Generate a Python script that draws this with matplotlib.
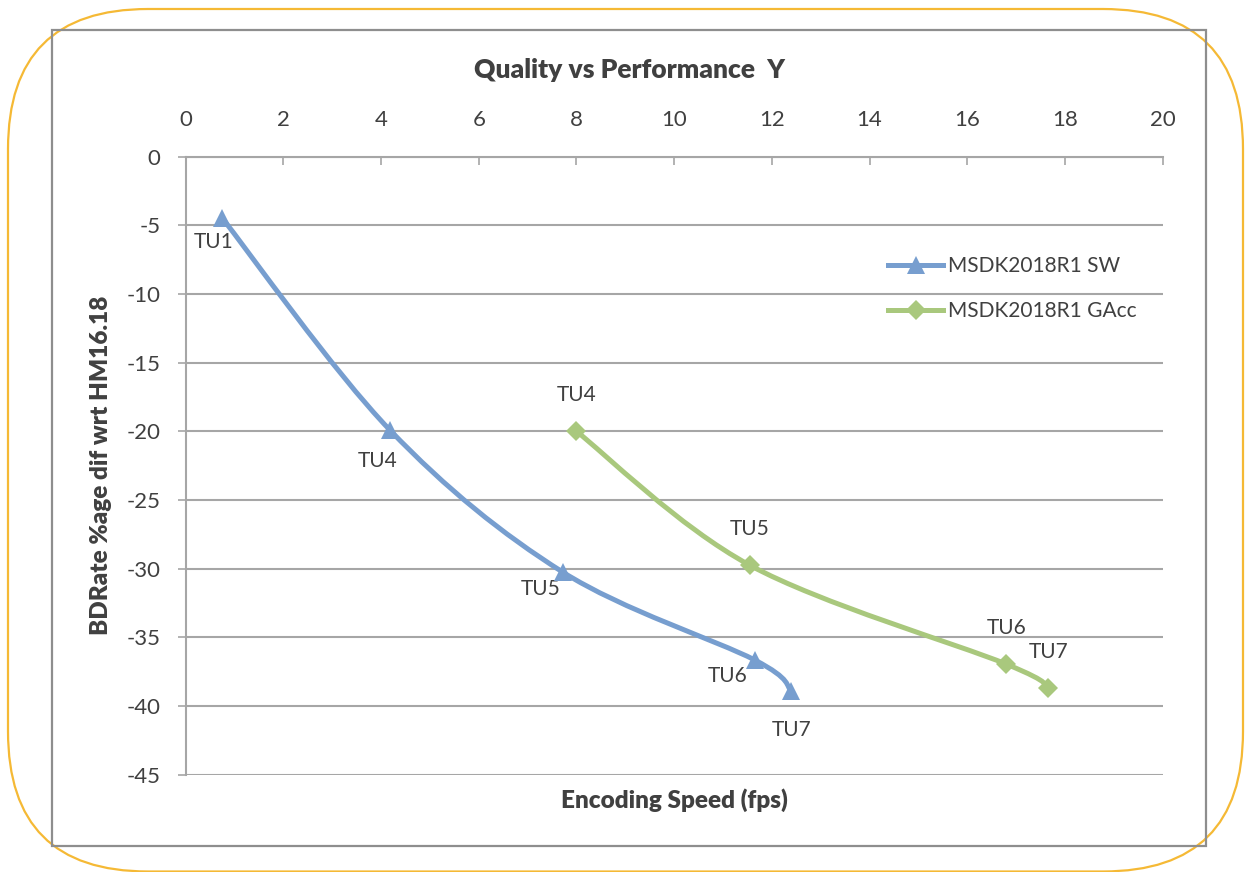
import numpy as np
import matplotlib
matplotlib.use("Agg")
import matplotlib.pyplot as plt
from matplotlib.path import Path
from matplotlib.patches import PathPatch, FancyBboxPatch, Rectangle
from matplotlib.lines import Line2D
from matplotlib.transforms import IdentityTransform

plt.rcParams['font.family'] = ['Lato', 'DejaVu Sans']
plt.rcParams['axes.unicode_minus'] = False

# data
sw_speed = [0.74, 4.18, 7.72, 11.65, 12.4]
sw_bdrate = [-4.43, -19.9, -30.25, -36.65, -38.9]
sw_labels = ['TU1', 'TU4', 'TU5', 'TU6', 'TU7']

gacc_speed = [8.0, 11.55, 16.8, 17.66]
gacc_bdrate = [-20.0, -29.75, -36.95, -38.7]
gacc_labels = ['TU4', 'TU5', 'TU6', 'TU7']

x_ticks = list(range(0, 21, 2))
y_ticks = list(range(0, -46, -5))

blue = '#779ECF'
green = '#A9C87D'
text_col = '#404040'
grid_col = '#A6A6A6'


def smooth_path(xs, ys):
    # bezier through the points, like a spreadsheet "smoothed line"
    pts = np.column_stack([xs, ys])
    n = len(pts)
    verts = [pts[0]]
    codes = [Path.MOVETO]
    for i in range(n - 1):
        p0 = pts[i - 1] if i > 0 else pts[i]
        p1 = pts[i]
        p2 = pts[i + 1]
        p3 = pts[i + 2] if i + 2 < n else pts[i + 1]
        verts += [p1 + (p2 - p0) / 6, p2 - (p3 - p1) / 6, p2]
        codes += [Path.CURVE4] * 3
    return Path(verts, codes)


fig = plt.figure(figsize=(12.46, 8.72), dpi=100)

# outer rounded border and inner chart frame (pixel coords)
fig.patches.append(FancyBboxPatch((8, 0.5), 1235, 862.5,
                                  boxstyle="round,pad=0,rounding_size=140",
                                  transform=IdentityTransform(), fill=False,
                                  edgecolor='#F5B935', linewidth=1.6))
fig.patches.append(Rectangle((52, 26), 1154, 816, transform=IdentityTransform(),
                             fill=False, edgecolor='#8E8E8E', linewidth=1.6))

ax = fig.add_axes([0.149, 0.1116, 0.7841, 0.7087])
ax.set_xlim(0, 20)
ax.set_ylim(-45, 0)

ax.add_patch(PathPatch(smooth_path(sw_speed, sw_bdrate), fill=False,
                       edgecolor=blue, linewidth=3.6, capstyle='round', zorder=3))
ax.add_patch(PathPatch(smooth_path(gacc_speed, gacc_bdrate), fill=False,
                       edgecolor=green, linewidth=3.6, capstyle='round', zorder=3))
ax.plot(sw_speed, sw_bdrate, linestyle='none', marker='^', markersize=13,
        color=blue, markeredgewidth=0, zorder=4)
ax.plot(gacc_speed, gacc_bdrate, linestyle='none', marker='D', markersize=10,
        color=green, markeredgewidth=0, zorder=4)

# point labels (offsets in pixels)
sw_offsets = [(-8, -24), (-12, -31), (-22, -17), (-27, -16), (0, -39)]
for x, y, lab, off in zip(sw_speed, sw_bdrate, sw_labels, sw_offsets):
    ax.annotate(lab, (x, y), xytext=off, textcoords='offset pixels',
                ha='center', va='center', fontsize=15, color=text_col)
for x, y, lab in zip(gacc_speed, gacc_bdrate, gacc_labels):
    ax.annotate(lab, (x, y), xytext=(0, 36), textcoords='offset pixels',
                ha='center', va='center', fontsize=15, color=text_col)

ax.set_xticks(x_ticks)
ax.set_yticks(y_ticks)
ax.xaxis.tick_top()
ax.tick_params(axis='x', direction='in', length=6, width=1.2, color=grid_col,
               labelsize=16, labelcolor=text_col, pad=19)
ax.tick_params(axis='y', direction='out', length=6, width=1.2, color=grid_col,
               labelsize=16, labelcolor=text_col, pad=12)
ax.grid(axis='y', color=grid_col, linewidth=1.5)
ax.set_axisbelow(True)
for s in ['right', 'bottom']:
    ax.spines[s].set_visible(False)
for s in ['left', 'top']:
    ax.spines[s].set_color(grid_col)
    ax.spines[s].set_linewidth(1.5)

ax.set_ylabel('BDRate %age dif wrt HM16.18', fontsize=17.5, fontweight=800,
              color=text_col)
ax.yaxis.set_label_coords(-0.0754, 0.5)
fig.text(674 / 1246, 1 - 800 / 872, 'Encoding Speed (fps)', ha='center', va='center',
         fontsize=17.5, fontweight=800, color=text_col)
fig.text(629 / 1246, 1 - 70 / 872, 'Quality vs Performance  Y', ha='center', va='center',
         fontsize=19, fontweight=800, color=text_col)

handles = [Line2D([], [], color=blue, linewidth=3.6, marker='^', markersize=13,
                  markeredgewidth=0),
           Line2D([], [], color=green, linewidth=3.6, marker='D', markersize=10,
                  markeredgewidth=0)]
ax.legend(handles, ['MSDK2018R1 SW', 'MSDK2018R1 GAcc'], loc='upper left',
          bbox_to_anchor=(878 / 1246, 1 - 246 / 872), bbox_transform=fig.transFigure,
          frameon=False, fontsize=15, handlelength=2.6, handletextpad=0.25,
          labelspacing=1.2, borderpad=0, labelcolor=text_col)

fig.savefig('out.png', dpi=100)
